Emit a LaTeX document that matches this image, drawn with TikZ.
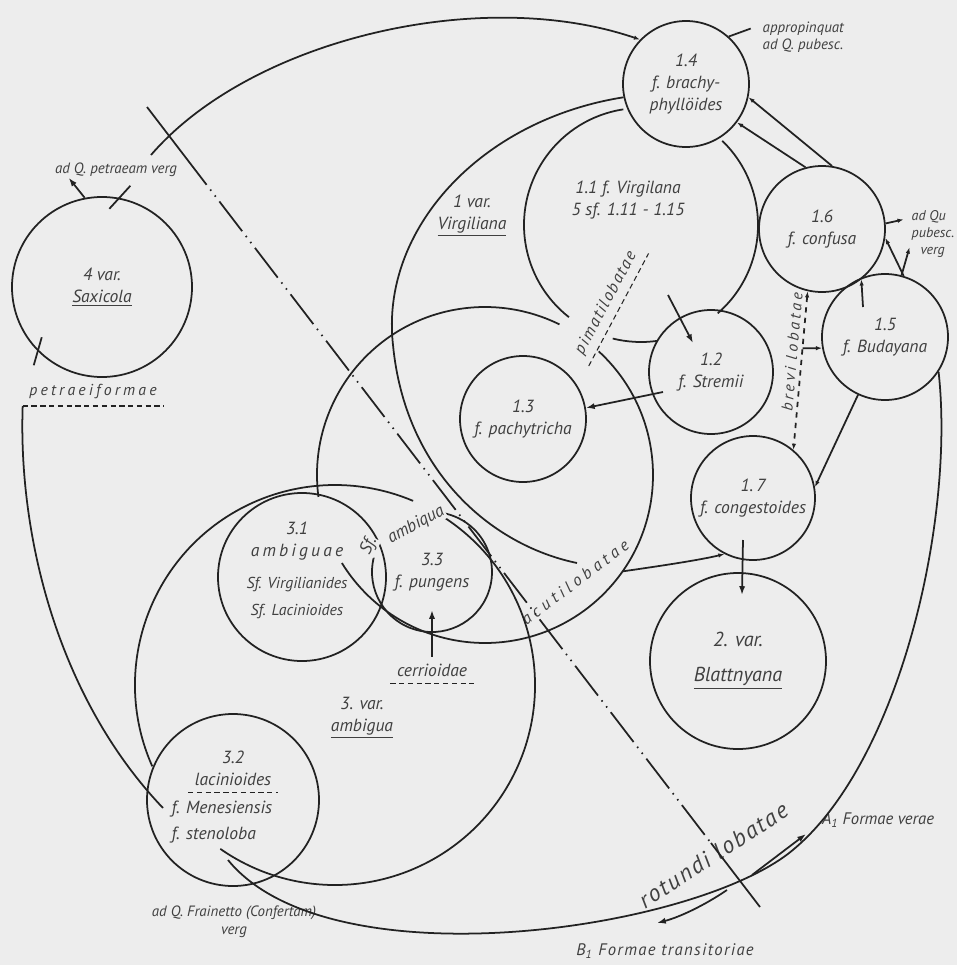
\documentclass[tikz,border=0pt]{standalone}
\usepackage{fontspec}
\setmainfont{PT Sans}
\usetikzlibrary{arrows.meta,calc}
\definecolor{paper}{HTML}{EDEDED}
\definecolor{ink}{HTML}{222222}

\begin{document}
\begin{tikzpicture}[x=0.2mm,y=-0.2mm,color=ink,line width=1pt,>={Latex[length=5pt,width=3.5pt]},
  every node/.style={font=\itshape\fontsize{10}{12.5}\selectfont,text=black!75},
  kreis/.style={circle,draw,inner sep=0pt,align=center},
  klein/.style={font=\itshape\fontsize{8.5}{10}\selectfont},
  gross/.style={font=\itshape\fontsize{11.5}{20}\selectfont},
  gesperrt/.style={font=\itshape\fontsize{9}{11}\selectfont\addfontfeatures{LetterSpace=20}},
  unterstrich/.style={line width=0.6pt,dash pattern=on 3pt off 2pt},
  spitze/.style={-{Latex[length=3.5pt,width=2.5pt]}},
  strichpunkt/.style={dash pattern=on 7.5mm off 1.2mm on 0.3mm off 1.2mm on 0.3mm off 1.2mm}]
\fill[paper] (0,0) rectangle (957,965);
\useasboundingbox (0,0) rectangle (957,965);

\node[kreis,minimum size=25.2mm] (c14) at (686,84) {1.4\\f. brachy-\\phyllöides};
\node[kreis,minimum size=25.2mm] (c16) at (822,229) {1.6\\f. confusa};
\node[kreis,minimum size=25.2mm] (c15) at (885,337) {1.5\\f. Budayana};
\node[kreis,minimum size=24.8mm] (c12) at (711,372) {1.2\\f. Stremii};
\node[kreis,minimum size=25.2mm] (c13) at (523,419) {1.3\\f. pachytricha};
\node[kreis,minimum size=24.8mm] (c17) at (753,498) {1.\,7\\f. congestoides};
\node[kreis,gross,minimum size=35.2mm] (c2) at (738,661) {2. var.\\\underline{Blattnyana}};
\node[kreis,minimum size=36mm] (c4) at (102,287) {4 var.\\\underline{Saxicola}};
\node[kreis,minimum size=33.6mm] (c31) at (302,577) {};
\node[kreis,minimum size=34.4mm] (c32) at (233,800) {};
\node[circle,minimum size=24mm,inner sep=0pt,align=center] (c33) at (432,572) {3.3\\f. pungens};

\node[align=center] (t31) at (297,570) {3.1\\{\addfontfeatures{LetterSpace=18}ambiguae}\\[6pt]{\fontsize{9}{10}\selectfont Sf. Virgilianides}\\[2.5pt]{\fontsize{9}{10}\selectfont Sf. Lacinioides}};
\node (n32) at (233,757) {3.2};
\node (lac) at (233,779) {lacinioides};
\node[align=left,anchor=west,font=\itshape\fontsize{10}{14.5}\selectfont] (f32) at (165,822) {f. Menesiensis\\f. stenoloba};
\node[align=center] (v1) at (472,216) {1 var.\\\underline{Virgiliana}};
\node[align=center] (f11) at (628,200) {1.1 f. Virgilana\\5 sf. 1.11 - 1.15};
\node[align=center] (v3) at (362,718) {3. var.\\\underline{ambigua}};
\node[gesperrt] (petr) at (93,392) {petraeiformae};
\node (cerr) at (432,670) {cerrioidae};
\node[klein] (petq) at (116,170) {ad Q. petraeam verg};
\node[klein,align=left,anchor=west] (appr) at (756,37) {appropinquat\\ad Q. pubesc.};
\node[klein,align=left,anchor=west,font=\itshape\fontsize{8}{9.5}\selectfont] (adqu) at (905,234) {ad Qu\\pubesc.\\\hspace*{5pt}verg};
\node[klein,align=center] (frai) at (234,922) {ad Q. Frainetto (Confertam)\\verg};
\node[font=\itshape\fontsize{9.5}{11}\selectfont] (aform) at (878,820) {A\textsubscript{1} Formae verae};
\node[font=\itshape\fontsize{9.5}{11}\selectfont\addfontfeatures{LetterSpace=8}] (bform) at (665,951) {B\textsubscript{1} Formae transitoriae};
\node[rotate=33,font=\itshape\fontsize{13.5}{16}\selectfont\addfontfeatures{LetterSpace=8}] (rot) at (713,855) {rotundi\ lobatae};
\node[rotate=37,font=\itshape\fontsize{9.5}{11}\selectfont\addfontfeatures{LetterSpace=25}] (acut) at (575,582) {acutilobatae};
\node[rotate=62,font=\itshape\fontsize{9.5}{11}\selectfont\addfontfeatures{LetterSpace=10}] (pim) at (606,303) {pimatilobatae};
\node[rotate=85,gesperrt] (brev) at (792,352) {brevi lobatae};

\draw[unterstrich] (lac.south west) -- (lac.south east);
\draw[unterstrich] (petr.south west) -- (petr.south east);
\draw[unterstrich] (cerr.south west) -- (cerr.south east);
\draw[unterstrich] (pim.south west) -- (pim.south east);

\coordinate (o1) at (151,155);
\coordinate (m11) at (641,225);
\coordinate (mA) at (485,475);
\coordinate (m3) at (335,685);
\coordinate (e1) at (577,563);
\coordinate (dA) at (147,107);
\coordinate (dB) at (760,907);
\coordinate (a1) at (752,875);
\coordinate (b1) at (727,890);

\draw[spitze] (o1) .. controls (250,40) and (480,-15) .. (c14.136);
\draw ($(c4.79)+(-10,11)$) -- ($(c4.79)+(11,-12)$);
\draw[->] (c4.101) -- ++(-16,-20);
\draw ($(c4.225)+(4,-14)$) -- ($(c4.225)+(-4,14)$);
\draw (petr.south west) .. controls (18,540) and (60,700) .. ($(c32)+(-70,8)$);
\draw (c14.192) .. controls (480,120) and (380,230) .. (393,345) .. controls (405,470) and (490,545) .. (e1);

\draw ([shift={(98.7:23.4mm)}]m11) arc[start angle=98.7,end angle=232,radius=23.4mm];
\draw ([shift={(256:23.4mm)}]m11) arc[start angle=256,end angle=278,radius=23.4mm];
\draw ([shift={(311:23.4mm)}]m11) arc[start angle=311,end angle=406,radius=23.4mm];
\draw ([shift={(187.5:33.6mm)}]mA) arc[start angle=187.5,end angle=63.7,radius=33.6mm];
\draw ([shift={(47.4:33.6mm)}]mA) arc[start angle=47.4,end angle=-148.4,radius=33.6mm];
\draw ([shift={(204:40mm)}]m3) arc[start angle=204,end angle=67,radius=40mm];
\draw ([shift={(59:40mm)}]m3) arc[start angle=59,end angle=-125,radius=40mm];
\draw ([shift={(166:12mm)}]c33.center) arc[start angle=166,end angle=442,radius=12mm];
\draw (c15.-33) .. controls (955,520) and (900,760) .. (794,849) .. controls (700,930) and (330,985) .. ($(c32)+(-5,60)$);

\draw (dA) -- ($(dA)!0.06!(dB)$);
\draw[strichpunkt] ($(dA)!0.06!(dB)$) -- ($(dA)!0.92!(dB)$);
\draw ($(dA)!0.92!(dB)$) -- (dB);

\draw[spitze] (c16.81) -- (c14.-12);
\draw[spitze] (c16.105) -- (c14.-37);
\draw[spitze] (c15.73) -- (c16.-8);
\draw[spitze] ($(c15)+(-22,-30)$) -- (c16.-52);
\draw[spitze] (c16.5) -- ++(18,-4);
\draw[spitze] (c15.75) -- ++(8,-28);
\draw (c14.48) -- ++(22,-8);
\draw[->] ($(c12)+(-48,20)$) -- (c13.10);
\draw[->] ($(c12)+(-43,-77)$) -- ($(c12)+(-18,-29)$);
\draw[->] ($(c17)+(-10,42)$) -- ($(c2)+(4,-66)$);
\draw[spitze] (c15.-115) -- (c17.10);
\draw[spitze] ([shift={(-35:33.6mm)}]mA) .. controls (660,566) and (700,560) .. (c17.-117);
\draw[dashed,{Latex[length=3.5pt,width=2.5pt]}-{Latex[length=3.5pt,width=2.5pt]}] (c16.-103) -- (c17.50);
\coordinate (bv) at ($(c16.-103)!0.36!(c17.50)$);
\draw[spitze] (bv) -- (c15.190);
\draw[->] (cerr.north) -- ($(c33)+(0,38)$);
\draw[->] (a1) -- ++(54,-41);
\draw[->] (b1) .. controls (705,905) and (680,917) .. (657,923);

\node[rotate=65,fill=paper,inner sep=0.5pt] (sf) at (369,546) {Sf.};
\node[rotate=29,fill=paper,inner sep=0.5pt] (amb) at (416,525) {ambiqua};
\end{tikzpicture}
\end{document}
